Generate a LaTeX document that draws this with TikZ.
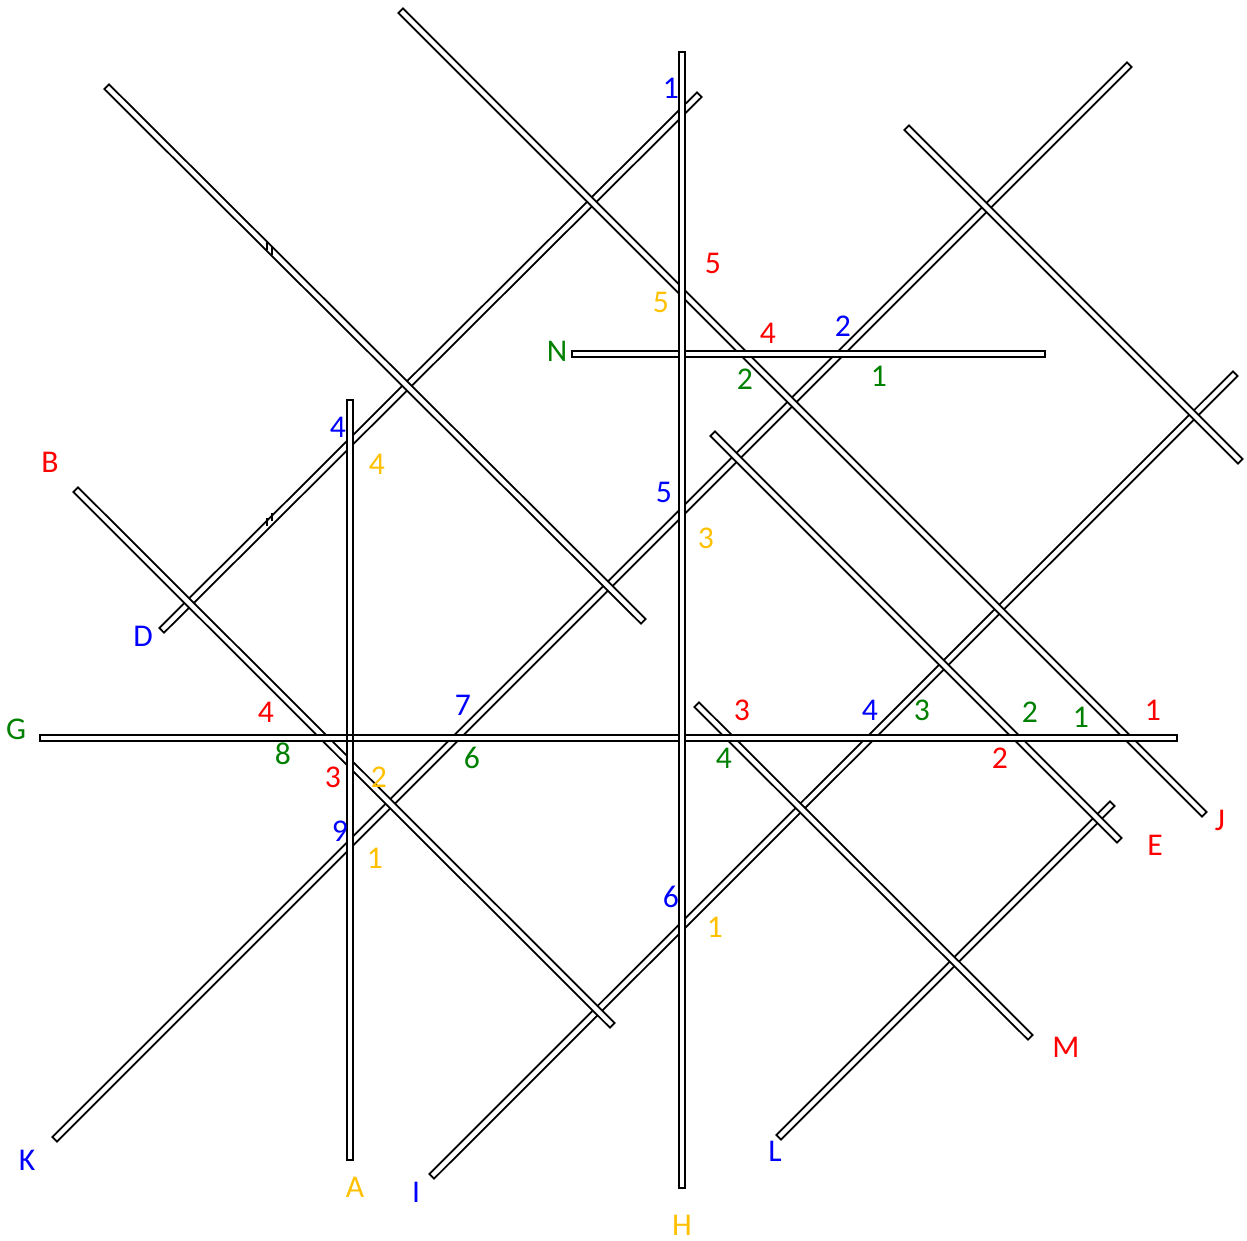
\documentclass[tikz,border=0pt]{standalone}
\usepackage{fontspec}
\setmainfont{Carlito}
\usetikzlibrary{positioning}

\definecolor{lblred}{RGB}{255,0,0}
\definecolor{lblblue}{RGB}{0,0,255}
\definecolor{lblgreen}{RGB}{0,128,0}
\definecolor{lblgold}{RGB}{255,192,0}

\tikzset{
  road/.style={double=white, double distance=1.3pt, line width=0.55pt, line cap=rect},
  lbl/.style={font=\fontsize{9}{11}\selectfont, inner sep=0pt},
  tick/.style={line width=0.5pt}
}

\begin{document}
\begin{tikzpicture}[x=0.01cm, y=-0.01cm]
\useasboundingbox (0,0) rectangle (1247,1241);

% ends of the roads
\coordinate (K1) at (57,1137);  \coordinate (K2) at (1127,67);
\coordinate (D1) at (164,628);  \coordinate (D2) at (697,97);
\coordinate (I1) at (434,1174); \coordinate (I2) at (1233,376);
\coordinate (L1) at (781,1135); \coordinate (L2) at (1110,806);
\coordinate (P1) at (109,89);   \coordinate (P2) at (641,619);
\coordinate (J1) at (403,13);   \coordinate (J2) at (1202,812);
\coordinate (Q1) at (909,130);  \coordinate (Q2) at (1238,459);
\coordinate (E1) at (715,436);  \coordinate (E2) at (1117,838);
\coordinate (B1) at (78,492);   \coordinate (B2) at (610,1023);
\coordinate (M1) at (699,707);  \coordinate (M2) at (1028,1035);
\coordinate (G1) at (43,738);   \coordinate (G2) at (1174,738);
\coordinate (N1) at (575,354);  \coordinate (N2) at (1042,354);
\coordinate (H1) at (682,55);   \coordinate (H2) at (682,1185);
\coordinate (A1) at (350,403);  \coordinate (A2) at (350,1157);
\coordinate (GA1) at (340,738); \coordinate (GA2) at (360,738);

% rising roads
\draw[road] (K1) -- (K2);
\draw[road] (D1) -- (D2);
\draw[road] (I1) -- (I2);
\draw[road] (L1) -- (L2);
% falling roads
\draw[road] (P1) -- (P2);
\draw[road] (J1) -- (J2);
\draw[road] (Q1) -- (Q2);
\draw[road] (E1) -- (E2);
\draw[road] (B1) -- (B2);
\draw[road] (M1) -- (M2);
% straight roads
\draw[road] (G1) -- (G2);
\draw[road] (N1) -- (N2);
\draw[road] (H1) -- (H2);
\draw[road] (A1) -- (A2);
% G shows through A
\draw[line width=0.55pt] ([yshift=-0.925pt]GA1) -- ([yshift=-0.925pt]GA2)
  ([yshift=0.925pt]GA1) -- ([yshift=0.925pt]GA2);

% small joints
\draw[tick] (267,242) -- (267,250);
\draw[tick] (272,247) -- (272,255);
\draw[tick] (267,518) -- (267,526);
\draw[tick] (272,513) -- (272,521);

% road names
\node[lbl, text=lblgold]  (nA) at (355,1187) {A};
\node[lbl, text=lblred]   (nB) at (50,462)   {B};
\node[lbl, text=lblblue]  (nD) at (143,636)  {D};
\node[lbl, text=lblred]   (nE) at (1155,845) {E};
\node[lbl, text=lblgreen] (nG) at (16,729)   {G};
\node[lbl, text=lblgold]  (nH) at (682,1225) {H};
\node[lbl, text=lblblue]  (nI) at (416,1192) {I};
\node[lbl, text=lblred]   (nJ) at (1220,820) {J};
\node[lbl, text=lblblue]  (nK) at (27,1160)  {K};
\node[lbl, text=lblblue]  (nL) at (775,1151) {L};
\node[lbl, text=lblred]   (nM) at (1066,1047) {M};
\node[lbl, text=lblgreen] (nN) at (557,351)  {N};

% crossing numbers
\node[lbl, text=lblblue]  (b1) at (671,88)   {1};
\node[lbl, text=lblblue]  (b2) at (843,326)  {2};
\node[lbl, text=lblblue]  (b4) at (338,427)  {4};
\node[lbl, text=lblblue]  (b5) at (664,492)  {5};
\node[lbl, text=lblblue]  (b7) at (463,705)  {7};
\node[lbl, text=lblblue]  (b4b) at (870,710) {4};
\node[lbl, text=lblblue]  (b9) at (340,831)  {9};
\node[lbl, text=lblblue]  (b6) at (671,897)  {6};

\node[lbl, text=lblred]   (r5) at (713,263)  {5};
\node[lbl, text=lblred]   (r4) at (768,333)  {4};
\node[lbl, text=lblred]   (r4b) at (266,712) {4};
\node[lbl, text=lblred]   (r3) at (742,710)  {3};
\node[lbl, text=lblred]   (r1) at (1153,710) {1};
\node[lbl, text=lblred]   (r2) at (1000,758) {2};
\node[lbl, text=lblred]   (r3b) at (333,777) {3};

\node[lbl, text=lblgreen] (g2) at (745,379)  {2};
\node[lbl, text=lblgreen] (g1) at (879,376)  {1};
\node[lbl, text=lblgreen] (g3) at (922,710)  {3};
\node[lbl, text=lblgreen] (g2b) at (1030,712) {2};
\node[lbl, text=lblgreen] (g1b) at (1081,717) {1};
\node[lbl, text=lblgreen] (g8) at (283,754)  {8};
\node[lbl, text=lblgreen] (g6) at (472,758)  {6};
\node[lbl, text=lblgreen] (g4) at (724,758)  {4};

\node[lbl, text=lblgold]  (y5) at (661,302)  {5};
\node[lbl, text=lblgold]  (y4) at (377,464)  {4};
\node[lbl, text=lblgold]  (y3) at (706,538)  {3};
\node[lbl, text=lblgold]  (y2) at (379,777)  {2};
\node[lbl, text=lblgold]  (y1) at (375,858)  {1};
\node[lbl, text=lblgold]  (y1b) at (715,927) {1};
\end{tikzpicture}
\end{document}
